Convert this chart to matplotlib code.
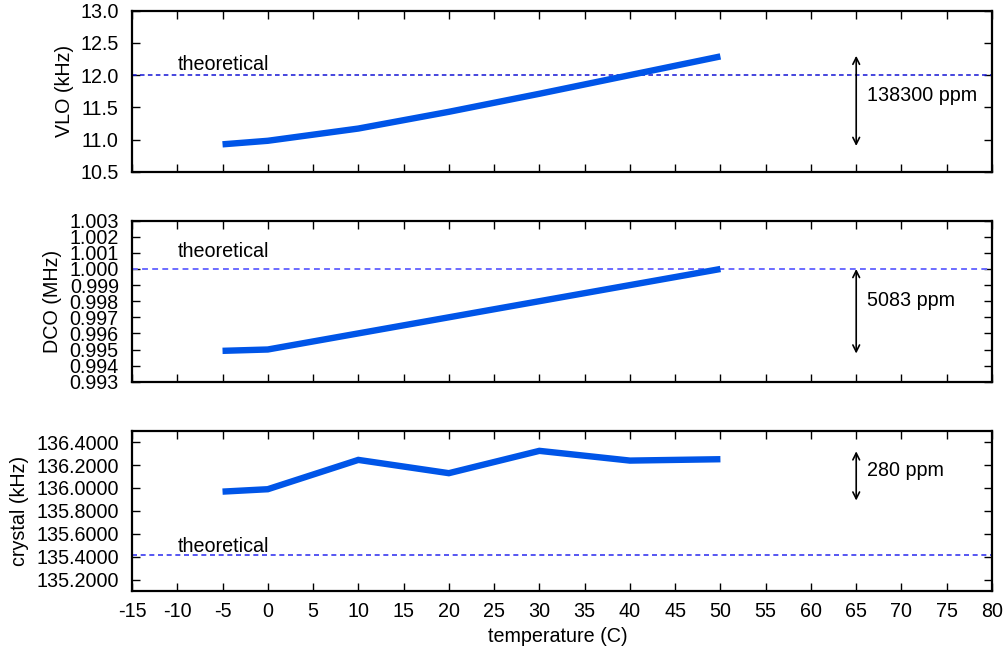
import matplotlib
matplotlib.use("Agg")
import matplotlib.pyplot as plt
from matplotlib.ticker import FixedLocator, FormatStrFormatter

plt.rcParams['font.family'] = ['Liberation Sans', 'DejaVu Sans']
plt.rcParams['axes.unicode_minus'] = False

# Measurements vs. temperature
temperature = [-5, 0, 10, 20, 30, 40, 50]
vlo_khz = [10.925, 10.98, 11.17, 11.43, 11.71, 12.00, 12.29]
dco_mhz = [0.994917, 0.99500, 0.99600, 0.99700, 0.99800, 0.99900, 1.00000]
crystal_khz = [135.968, 135.989, 136.245, 136.129, 136.324, 136.239, 136.251]

# Nominal frequencies
vlo_theory = 12.0
dco_theory = 1.000
crystal_theory = 135.417

# Spread annotations: (arrow top, arrow bottom, label y, text)
vlo_spread = (12.30, 10.90, 11.69, "138300 ppm")
dco_spread = (1.0000, 0.99475, 0.99805, "5083 ppm")
crystal_spread = (136.32, 135.89, 136.152, "280 ppm")

x_ticks = list(range(-15, 81, 5))
x_limits = (-15, 80)

fig = plt.figure(figsize=(10.07, 6.53), dpi=100)

W, H = 1007, 653
left_px, right_px = 132, 992
panels_px = [(10.7, 171.7), (220.7, 381.7), (430.7, 591.0)]

def make_axes(top, bottom):
    return fig.add_axes([left_px / W, 1 - bottom / H,
                         (right_px - left_px) / W, (bottom - top) / H])

axes = [make_axes(t, b) for t, b in panels_px]

line_color = '#0055e8'
label_size = 14.2

def style(ax, show_x):
    ax.set_xlim(*x_limits)
    ax.xaxis.set_major_locator(FixedLocator(x_ticks))
    ax.tick_params(direction='in', length=6, width=1.0, top=True, right=True,
                   labelsize=label_size, labelbottom=show_x)
    ax.tick_params(axis='y', pad=9.5)
    ax.tick_params(axis='x', pad=8.2)
    for s in ax.spines.values():
        s.set_linewidth(1.6)

def panel(ax, values, ylim, yticks, fmt, theory, theory_color, theory_lw,
          theory_y_text, spread, ylabel, ylabel_x):
    ax.plot(temperature, values, color=line_color, lw=4.6,
            solid_capstyle='butt', solid_joinstyle='miter', zorder=3)
    ax.axhline(theory, color=theory_color, lw=theory_lw, dashes=(3.0, 2.2),
               zorder=2)
    ax.text(-10, theory_y_text, "theoretical", fontsize=label_size,
            ha='left', va='center')
    top, bottom, ytext, text = spread
    ax.annotate("", xy=(65, top), xytext=(65, bottom),
                arrowprops=dict(arrowstyle='<->', color='black', lw=1.2,
                                shrinkA=0, shrinkB=0, mutation_scale=12))
    ax.text(66.2, ytext, text, fontsize=label_size, ha='left', va='center')
    ax.set_ylim(*ylim)
    ax.yaxis.set_major_locator(FixedLocator(yticks))
    ax.yaxis.set_major_formatter(FormatStrFormatter(fmt))
    ax.set_ylabel(ylabel, fontsize=label_size)
    ax.yaxis.set_label_coords(ylabel_x, 0.5)

panel(axes[0], vlo_khz, (10.5, 13.0), [10.5, 11.0, 11.5, 12.0, 12.5, 13.0],
      '%.1f', vlo_theory, '#1414d4', 1.1, 12.17, vlo_spread, "VLO (kHz)", -0.0674)
style(axes[0], False)

panel(axes[1], dco_mhz, (0.993, 1.003),
      [0.993, 0.994, 0.995, 0.996, 0.997, 0.998, 0.999, 1.000, 1.001, 1.002, 1.003],
      '%.3f', dco_theory, '#6b6bff', 1.4, 1.00107, dco_spread, "DCO (MHz)", -0.0814)
style(axes[1], False)

panel(axes[2], crystal_khz, (135.1, 136.5),
      [135.2, 135.4, 135.6, 135.8, 136.0, 136.2, 136.4],
      '%.4f', crystal_theory, '#3a3af0', 1.2, 135.493, crystal_spread,
      "crystal (kHz)", -0.1198)
style(axes[2], True)
axes[2].set_xlabel("temperature (C)", fontsize=label_size)
axes[2].xaxis.label.set_va('center')
axes[2].xaxis.set_label_coords((558 - left_px) / (right_px - left_px),
                               (591.0 - 637) / (591.0 - 430.7))

fig.savefig("out.png", dpi=100)
